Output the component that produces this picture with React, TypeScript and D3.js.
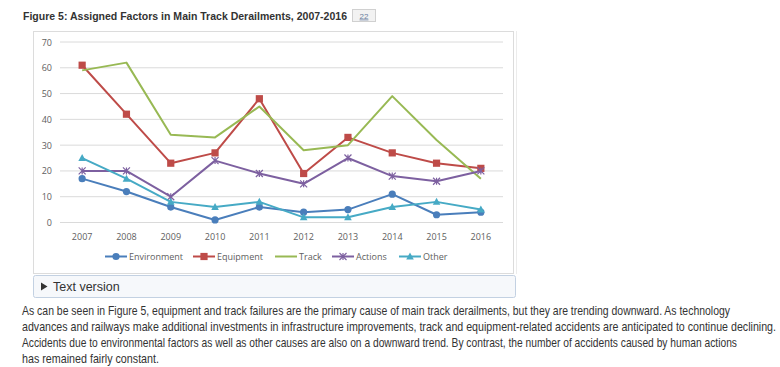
import React from "react";
import * as d3 from "d3";

const years = ["2007", "2008", "2009", "2010", "2011", "2012", "2013", "2014", "2015", "2016"];
const environment = [17, 12, 6, 1, 6, 4, 5, 11, 3, 4];
const equipment = [61, 42, 23, 27, 48, 19, 33, 27, 23, 21];
const track = [59, 62, 34, 33, 45, 28, 30, 49, 32, 17];
const actions = [20, 20, 10, 24, 19, 15, 25, 18, 16, 20];
const other = [25, 17, 8, 6, 8, 2, 2, 6, 8, 5];
const yTicks = [0, 10, 20, 30, 40, 50, 60, 70];

const title = "Figure 5: Assigned Factors in Main Track Derailments, 2007-2016";
const paragraph = [
  "As can be seen in Figure 5, equipment and track failures are the primary cause of main track derailments, but they are trending downward. As technology",
  "advances and railways make additional investments in infrastructure improvements, track and equipment-related accidents are anticipated to continue declining.",
  "Accidents due to environmental factors as well as other causes are also on a downward trend. By contrast, the number of accidents caused by human actions",
  "has remained fairly constant.",
];
const paragraphWidths = [708, 754, 715, 137];

type Marker = "circle" | "square" | "none" | "star" | "triangle";

const series: { name: string; values: number[]; color: string; marker: Marker }[] = [
  { name: "Environment", values: environment, color: "#4a7ebb", marker: "circle" },
  { name: "Equipment", values: equipment, color: "#be4b48", marker: "square" },
  { name: "Track", values: track, color: "#98b954", marker: "none" },
  { name: "Actions", values: actions, color: "#7d60a0", marker: "star" },
  { name: "Other", values: other, color: "#46aac5", marker: "triangle" },
];

// legend line start positions (x) for each entry
const legendX = [105, 193, 275, 332, 399];

function MarkerShape({ kind, x, y, color }: { kind: Marker; x: number; y: number; color: string }) {
  if (kind === "circle") return <circle cx={x} cy={y} r={3.6} fill={color} />;
  if (kind === "square") return <rect x={x - 3.6} y={y - 3.6} width={7.2} height={7.2} fill={color} />;
  if (kind === "triangle")
    return <path d={`M${x},${y - 4} L${x + 3.8},${y + 3} L${x - 3.8},${y + 3} Z`} fill={color} />;
  if (kind === "star")
    return (
      <path
        d={`M${x - 3.5},${y - 3.5} L${x + 3.5},${y + 3.5} M${x - 3.5},${y + 3.5} L${x + 3.5},${y - 3.5} M${x},${y - 3.5} L${x},${y + 3.5}`}
        stroke={color}
        strokeWidth={1.2}
        fill="none"
      />
    );
  return null;
}

export default function App() {
  const width = 780;
  const height = 367;

  const x = d3.scaleBand().domain(years).range([60, 503]);
  const y = d3.scaleLinear().domain([0, 70]).range([222.5, 42]);
  const cx = (d: string) => (x(d) ?? 0) + x.bandwidth() / 2;

  const line = d3
    .line<number>()
    .x((_, i) => cx(years[i]))
    .y((d) => y(d));

  const chartFont = "'Open Sans', 'Noto Sans', sans-serif";
  const pageFont = "'Liberation Sans', Arial, sans-serif";
  // the page text in the reference is horizontally squeezed
  const squeeze = 0.86;

  return (
    <svg
      width={width}
      height={height}
      style={{ position: "absolute", left: 0, top: 0, display: "block", background: "#fff" }}
    >
      {/* title + badge */}
      <g transform={`translate(23,20) scale(0.92,1)`}>
        <text x={0} y={0} fontFamily={pageFont} fontWeight="bold" fontSize={11.5} fill="#333" textLength={324 / 0.92} lengthAdjust="spacingAndGlyphs">
          {title}
        </text>
      </g>
      <rect x={352.5} y={9.5} width={23} height={12} fill="#f2f2f2" stroke="#d0d0d0" />
      <text x={364} y={18.5} textAnchor="middle" fontFamily={pageFont} fontSize={8} fill="#6a7fa0" textDecoration="underline">
        22
      </text>

      {/* chart frame */}
      <rect x={33.5} y={31.5} width={480} height={242} fill="#fff" stroke="#dcdcdc" />
      <line x1={516.5} x2={516.5} y1={31} y2={274} stroke="#ececec" />

      {/* grid + y axis labels */}
      {yTicks.map((t) => (
        <g key={t}>
          <line x1={60} x2={503} y1={y(t)} y2={y(t)} stroke="#dadada" strokeWidth={1} />
          <text x={52} y={y(t) + 3.5} textAnchor="end" fontFamily={chartFont} fontSize={9} fill="#606060">
            {t}
          </text>
        </g>
      ))}

      {/* x axis labels */}
      {years.map((yr) => (
        <text key={yr} x={cx(yr)} y={239.5} textAnchor="middle" fontFamily={chartFont} fontSize={9} fill="#606060">
          {yr}
        </text>
      ))}

      {/* series */}
      {series.map((s) => (
        <g key={s.name}>
          <path d={line(s.values) ?? ""} fill="none" stroke={s.color} strokeWidth={2} strokeLinejoin="round" />
          {s.values.map((v, i) => (
            <MarkerShape key={i} kind={s.marker} x={cx(years[i])} y={y(v)} color={s.color} />
          ))}
        </g>
      ))}

      {/* legend */}
      {series.map((s, i) => (
        <g key={s.name}>
          <line x1={legendX[i]} x2={legendX[i] + 22} y1={256.5} y2={256.5} stroke={s.color} strokeWidth={2} />
          <MarkerShape kind={s.marker} x={legendX[i] + 11} y={256.5} color={s.color} />
          <text x={legendX[i] + 24} y={259.5} fontFamily={chartFont} fontSize={9} fill="#606060">
            {s.name}
          </text>
        </g>
      ))}

      {/* text version box */}
      <rect x={33.5} y={275.5} width={482} height={22} rx={2} fill="#f6f8fb" stroke="#c3d1e2" />
      <path d="M41,282.5 L47.5,286.5 L41,290.5 Z" fill="#333" />
      <text x={53} y={290.5} fontFamily={pageFont} fontSize={12.5} fill="#333">
        Text version
      </text>

      {/* paragraph */}
      {paragraph.map((p, i) => (
        <g key={i} transform={`translate(22,${315 + i * 16}) scale(${squeeze},1)`}>
          <text
            x={0}
            y={0}
            fontFamily={pageFont}
            fontSize={12}
            fill="#333"
            textLength={paragraphWidths[i] / squeeze}
            lengthAdjust="spacingAndGlyphs"
          >
            {p}
          </text>
        </g>
      ))}
    </svg>
  );
}
